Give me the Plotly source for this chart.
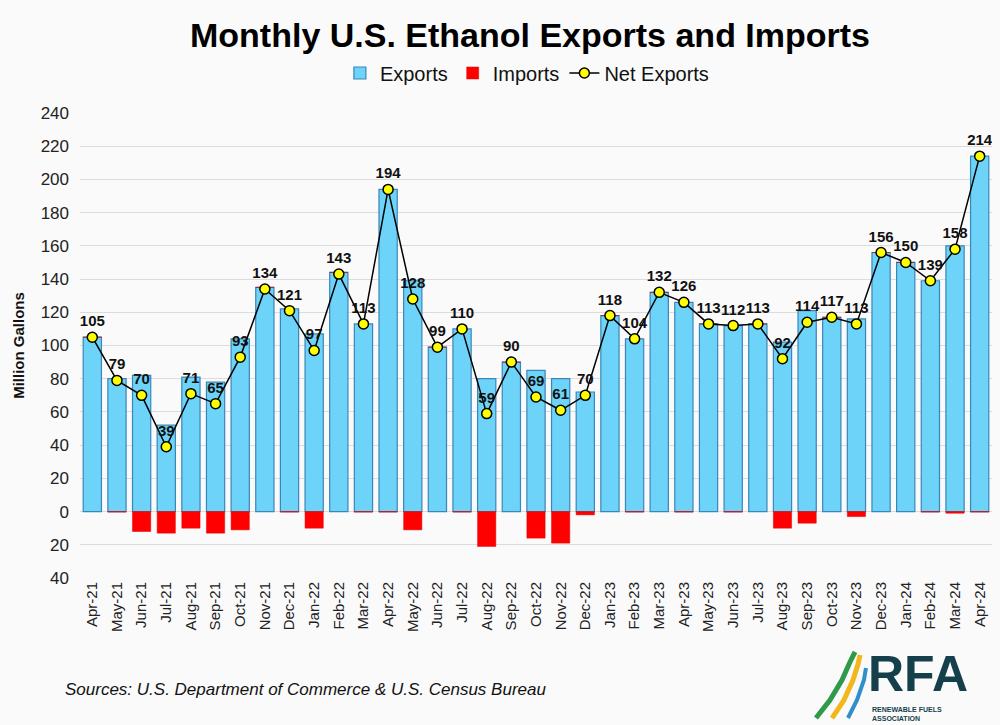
import plotly.graph_objects as go

months = ["Apr-21","May-21","Jun-21","Jul-21","Aug-21","Sep-21","Oct-21","Nov-21","Dec-21",
          "Jan-22","Feb-22","Mar-22","Apr-22","May-22","Jun-22","Jul-22","Aug-22","Sep-22","Oct-22","Nov-22","Dec-22",
          "Jan-23","Feb-23","Mar-23","Apr-23","May-23","Jun-23","Jul-23","Aug-23","Sep-23","Oct-23","Nov-23","Dec-23",
          "Jan-24","Feb-24","Mar-24","Apr-24"]
exports = [105, 80, 82, 52, 81, 78, 104, 135, 122,
           107, 144, 113, 194, 139, 99, 110, 80, 90, 85, 80, 72,
           118, 104, 132, 126, 113, 112, 113, 102, 121, 117, 116, 156,
           150, 139, 160, 214]
imports = [0, 0.3, 12, 13, 10, 13, 11, 0, 0.3,
           10, 0, 0.3, 0.3, 11, 0, 0.3, 21, 0, 16, 19, 2,
           0, 0.3, 0, 0.3, 0, 0.3, 0, 10, 7, 0, 3, 0,
           0, 0.3, 1, 0.3]
net_exports = [105, 79, 70, 39, 71, 65, 93, 134, 121,
               97, 143, 113, 194, 128, 99, 110, 59, 90, 69, 61, 70,
               118, 104, 132, 126, 113, 112, 113, 92, 114, 117, 113, 156,
               150, 139, 158, 214]
y_tickvals = [-40, -20, 0, 20, 40, 60, 80, 100, 120, 140, 160, 180, 200, 220, 240]
y_ticktext = ["40", "20", "0", "20", "40", "60", "80", "100", "120", "140", "160", "180", "200", "220", "240"]

ML, MR, MT, MB = 80, 8, 113, 147
W, H = 1000, 725
plot_w = W - ML - MR
plot_h = H - MT - MB

def px_to_paper(px, py):
    return (px - ML) / plot_w, (H - MB - py) / plot_h

fig = go.Figure()
fig.add_trace(go.Bar(x=months, y=exports, name="Exports",
                     marker=dict(color="#6dd3f8", line=dict(color="#3b86b8", width=1.2)),
                     width=0.74))
fig.add_trace(go.Bar(x=months, y=[-v for v in imports], name="Imports",
                     marker=dict(color="#ff0000", line=dict(color="#e00000", width=0.5)),
                     width=0.74))
fig.add_trace(go.Scatter(x=months, y=net_exports, name="Net Exports",
                         mode="lines+markers+text",
                         line=dict(color="black", width=1.5),
                         marker=dict(color="#ffff00", size=10, line=dict(color="black", width=1.5)),
                         text=[str(v) for v in net_exports], textposition="top center",
                         textfont=dict(family="Arial", size=15, color="#111"),
                         texttemplate="<b>%{text}</b>"))

fig.update_layout(
    barmode="relative",
    width=W, height=H,
    paper_bgcolor="#fafafa", plot_bgcolor="#fafafa",
    margin=dict(l=ML, r=MR, t=MT, b=MB),
    font=dict(family="Arial", color="#222"),
    showlegend=True,
    legend=dict(orientation="h", x=0.49, xanchor="center", y=1 - 73 / H, yref="container",
                yanchor="middle", font=dict(size=20, color="#111"),
                bgcolor="rgba(0,0,0,0)", itemwidth=30, traceorder="normal"),
    xaxis=dict(tickangle=-90, tickfont=dict(size=15, color="#222"), showgrid=False,
               showline=False, ticks="", range=[-0.5, 36.5]),
    yaxis=dict(range=[-40, 240], tickvals=y_tickvals, ticktext=y_ticktext,
               tickfont=dict(size=17, color="#222"), gridcolor="#dcdcdc", gridwidth=1,
               zeroline=False, showline=False, ticks="", ticklabelstandoff=10,
               title=dict(text="<b>Million Gallons</b>", font=dict(size=15, color="#111"), standoff=12)),
)

tx, ty = px_to_paper(530, 35)
fig.add_annotation(text="<b>Monthly U.S. Ethanol Exports and Imports</b>", x=tx, y=ty,
                   xref="paper", yref="paper", showarrow=False, xanchor="center", yanchor="middle",
                   font=dict(size=34, color="#000"))
sx, sy = px_to_paper(63, 689)
fig.add_annotation(text="<i>Sources: U.S. Department of Commerce &amp; U.S. Census Bureau</i>",
                   x=sx, y=sy, xref="paper", yref="paper", showarrow=False, xanchor="left",
                   yanchor="middle", font=dict(size=17, color="#111"))

# RFA logo
rx, ry = px_to_paper(918, 674)
fig.add_annotation(text="<b>RFA</b>", x=rx, y=ry, xref="paper", yref="paper", showarrow=False,
                   xanchor="center", yanchor="middle", font=dict(size=50, color="#143f4b", family="Arial"))
lx, ly = px_to_paper(870, 704)
fig.add_annotation(text="<b>RENEWABLE FUELS<br>ASSOCIATION</b>", x=lx, y=ly, xref="paper", yref="paper",
                   showarrow=False, xanchor="left", yanchor="top", align="left",
                   font=dict(size=7, color="#143f4b", family="Arial"))

def swoosh(pts, color, w):
    path = "M " + " L ".join(f"{px_to_paper(a, b)[0]:.4f},{px_to_paper(a, b)[1]:.4f}" for a, b in pts)
    fig.add_shape(type="path", path=path, xref="paper", yref="paper",
                  line=dict(color=color, width=w), layer="above")

swoosh([(816, 718), (830, 700), (842, 680), (850, 662), (855, 652)], "#2e9a4a", 5)
swoosh([(832, 718), (844, 700), (853, 680), (858, 664), (860, 655)], "#f2b71a", 5)
swoosh([(848, 718), (857, 700), (864, 680), (866, 668)], "#2f8fc9", 4)

fig.write_html("out.html")
